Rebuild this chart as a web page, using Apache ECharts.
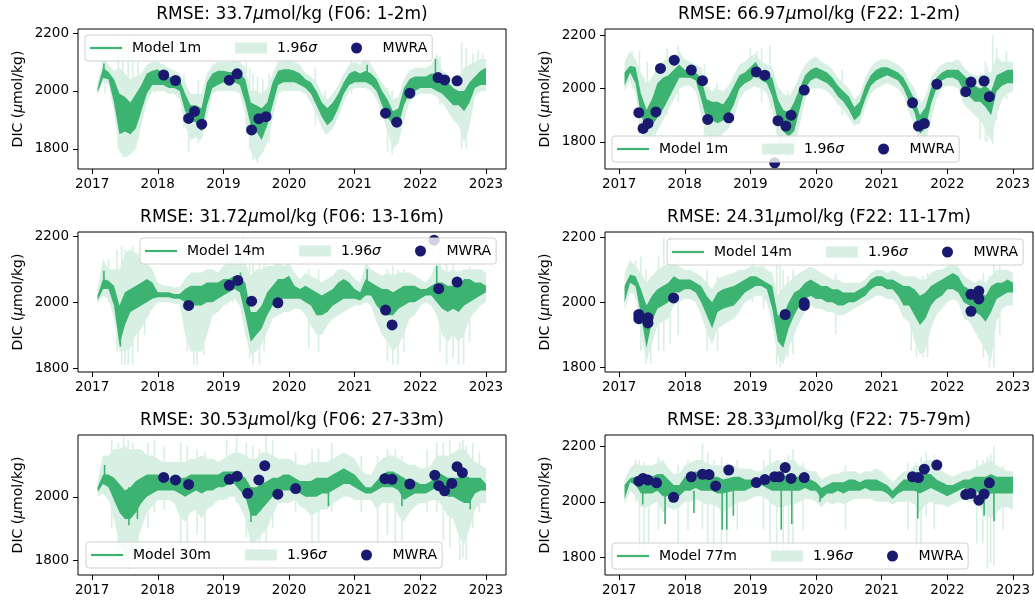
<!DOCTYPE html>
<html>
<head>
<meta charset="utf-8">
<script src="https://cdn.jsdelivr.net/npm/echarts@6/dist/echarts.min.js"></script>
<style>
  html, body { margin: 0; padding: 0; background: #fff; }
  #chart { width: 1035px; height: 604px; }
</style>
</head>
<body>
<div id="chart"></div>
<script>
// monthly sample dates (decimal year) used for the model envelopes
const months = [
  2017.083, 2017.167, 2017.25, 2017.333, 2017.417, 2017.5, 2017.583, 2017.667, 2017.75, 2017.833, 2017.917, 2018,
  2018.083, 2018.167, 2018.25, 2018.333, 2018.417, 2018.5, 2018.583, 2018.667, 2018.75, 2018.833, 2018.917, 2019,
  2019.083, 2019.167, 2019.25, 2019.333, 2019.417, 2019.5, 2019.583, 2019.667, 2019.75, 2019.833, 2019.917, 2020,
  2020.083, 2020.167, 2020.25, 2020.333, 2020.417, 2020.5, 2020.583, 2020.667, 2020.75, 2020.833, 2020.917, 2021,
  2021.083, 2021.167, 2021.25, 2021.333, 2021.417, 2021.5, 2021.583, 2021.667, 2021.75, 2021.833, 2021.917, 2022,
  2022.083, 2022.167, 2022.25, 2022.333, 2022.417, 2022.5, 2022.583, 2022.667, 2022.75, 2022.833, 2022.917, 2023
];
const xTicks = [2017, 2018, 2019, 2020, 2021, 2022, 2023];
const yTicks = [1800, 2000, 2200];

// ---- F06 1-2m ----
const p1ModelLo = [1995,2045,2040,1960,1850,1860,1850,1870,1930,1990,2020,2020, 2020,2010,2010,2000,1930,1900,1890,1860,1950,2010,2020,2030, 2020,2030,2020,1960,1880,1860,1830,1880,1950,2020,2030,2030, 2030,2020,2010,1990,1950,1910,1880,1900,1940,1990,2020,2030, 2030,2030,2020,2000,1950,1910,1880,1880,1950,1990,2000,2010, 2010,2010,2000,1990,1970,1950,1950,1930,1960,2010,2020,2020];
const p1ModelHi = [2010,2080,2065,2040,1990,1980,1960,1990,2020,2060,2070,2075, 2060,2050,2045,2040,1990,1950,1950,1940,2030,2060,2070,2070, 2065,2065,2060,2040,1960,1950,1940,1960,2030,2070,2075,2075, 2070,2060,2040,2030,2000,1960,1940,1960,1990,2030,2060,2070, 2060,2070,2060,2040,2000,1970,1930,1940,2010,2040,2050,2050, 2050,2060,2060,2040,2030,2010,2000,2000,2030,2050,2070,2080];
const p1BandLo = [1985,2030,2020,1930,1790,1770,1780,1800,1880,1960,2000,2000, 2000,1990,1990,1970,1880,1830,1840,1830,1910,1990,2000,2000, 2000,2000,1990,1920,1790,1760,1780,1820,1900,1990,2000,2000, 2000,2000,1990,1960,1920,1870,1850,1870,1910,1960,2000,2010, 2010,2010,2000,1970,1920,1860,1800,1820,1900,1960,1980,1990, 1990,1990,1980,1960,1930,1900,1880,1820,1880,1980,2000,2000];
const p1BandHi = [2030,2110,2090,2070,2080,2060,2040,2050,2060,2090,2100,2100, 2090,2080,2070,2060,2030,1990,1990,1990,2060,2090,2100,2100, 2100,2110,2100,2080,2000,2000,1990,2010,2060,2100,2110,2110, 2100,2090,2060,2050,2030,1990,1970,1990,2020,2060,2090,2100, 2090,2120,2090,2060,2030,2000,1970,1980,2040,2070,2080,2080, 2080,2090,2130,2070,2060,2040,2050,2080,2090,2100,2110,2110];
const p1BandSpikes = [[2017.20,1990,2110],[2017.40,1800,2190],[2017.47,1770,2150],[2017.55,1780,2180],[2017.62,1800,2120],[2017.70,1830,2100],[2017.95,1990,2130],[2018.40,1870,2060],[2018.47,1790,2000],[2018.62,1820,2040],[2019.15,2000,2130],[2019.35,1850,2100],[2019.40,1800,2080],[2019.45,1760,2060],[2019.52,1750,2050],[2019.60,1790,2040],[2019.70,1820,2060],[2019.95,2000,2120],[2020.40,1880,2080],[2020.55,1850,2000],[2020.95,1990,2110],[2021.50,1790,2010],[2021.57,1780,2000],[2022.30,1950,2120],[2022.63,1800,2170],[2022.70,1800,2150],[2022.80,1950,2130],[2022.88,1990,2140],[2022.95,2000,2130]];
const p1ModelSpikes = [[2017.18,2050,2095],[2021.19,2030,2090],[2022.23,2020,2110]];
const p1Mwra = [[2018.09,2055],[2018.27,2036],[2018.47,1905],[2018.56,1929],[2018.67,1885],[2019.09,2037],[2019.21,2059],[2019.43,1865],[2019.54,1904],[2019.65,1911],[2021.47,1923],[2021.64,1892],[2021.84,1992],[2022.27,2046],[2022.37,2038],[2022.56,2035]];

// ---- F22 1-2m ----
const p2ModelLo = [2010,2060,2020,1900,1850,1860,1890,1920,1960,2000,2040,2040, 2040,2030,1960,1880,1880,1870,1880,1900,1940,2000,2020,2030, 2050,2030,2020,1970,1880,1840,1820,1840,1920,2000,2030,2040, 2030,2020,2000,1970,1950,1920,1880,1900,1960,2010,2030,2040, 2050,2040,2030,2000,1950,1910,1830,1850,1940,2000,2030,2040, 2040,2030,1990,1970,1950,1950,1930,1900,1990,2010,2020,2020];
const p2ModelHi = [2060,2085,2080,1980,1920,1960,2020,2040,2050,2070,2090,2070, 2070,2060,2040,1960,1950,1950,1940,1970,2010,2050,2060,2080, 2100,2060,2050,2040,1960,1920,1910,1950,2000,2050,2070,2080, 2070,2060,2040,2010,1990,1970,1930,1950,2010,2050,2070,2080, 2080,2070,2060,2040,2000,1960,1900,1930,2000,2040,2060,2070, 2070,2070,2050,2030,2010,2000,2010,1990,2050,2060,2070,2070];
const p2BandLo = [1990,2030,1980,1850,1800,1820,1840,1880,1920,1960,2000,2010, 2010,1990,1900,1820,1820,1810,1830,1850,1890,1960,1990,2000, 2010,2000,1980,1920,1800,1760,1740,1770,1860,1960,2000,2000, 2000,1990,1970,1940,1920,1890,1860,1870,1930,1980,2000,2010, 2020,2010,2000,1970,1910,1860,1790,1800,1880,1960,2000,2010, 2010,2000,1940,1920,1900,1880,1850,1800,1900,1960,1980,1990];
const p2BandHi = [2100,2140,2110,2060,2020,2040,2080,2100,2120,2120,2140,2110, 2100,2090,2080,2010,1990,2000,1990,2010,2050,2090,2100,2120, 2130,2100,2090,2080,2010,1980,1970,2000,2050,2090,2110,2120, 2100,2090,2070,2040,2020,2000,1960,1980,2040,2080,2100,2110, 2110,2100,2090,2070,2030,2000,1940,1970,2040,2070,2090,2100, 2100,2110,2080,2060,2050,2050,2060,2060,2120,2100,2100,2100];
const p2BandSpikes = [[2017.20,2000,2140],[2017.31,1830,2140],[2017.43,1790,2100],[2017.55,1800,2060],[2017.73,1900,2150],[2017.90,1950,2160],[2018.30,1800,2090],[2018.45,1790,2000],[2018.49,1810,2020],[2019.00,2000,2150],[2019.10,2000,2140],[2019.17,1950,2150],[2019.30,1920,2160],[2019.45,1740,2000],[2019.57,1740,1990],[2020.40,1900,2070],[2021.58,1800,1960],[2021.62,1790,1950],[2022.50,1810,2060],[2022.58,1800,2100],[2022.61,1800,2080],[2022.69,1790,2200],[2022.75,1880,2150],[2022.90,1960,2140]];
const p2ModelSpikes = [];
const p2Mwra = [[2017.30,1909],[2017.365,1850],[2017.44,1869],[2017.56,1912],[2017.63,2075],[2017.84,2106],[2018.10,2069],[2018.27,2029],[2018.35,1884],[2018.67,1890],[2019.09,2062],[2019.22,2050],[2019.37,1721],[2019.42,1879],[2019.54,1859],[2019.62,1900],[2019.82,1994],[2021.47,1946],[2021.56,1859],[2021.65,1869],[2021.84,2016],[2022.28,1988],[2022.36,2024],[2022.56,2028],[2022.64,1969]];

// ---- F06 13-16m ----
const p3ModelLo = [2005,2040,2040,1990,1870,1930,1970,1980,1990,2000,2010,2015, 2015,2015,2010,2010,2000,1990,1990,1990,2000,2000,2010,2020, 2030,2040,2030,1960,1880,1900,1920,1960,1990,2000,2010,2010, 2010,2010,2000,1990,1960,1960,1970,1990,2000,2010,2010,2010, 2005,2020,2020,1990,1970,1960,1960,1980,1990,2000,2000,2010, 2020,2020,2000,1980,1970,1980,1970,1990,2000,2010,2020,2030];
const p3ModelHi = [2020,2070,2065,2050,1990,2030,2040,2050,2060,2070,2060,2030, 2030,2030,2025,2025,2040,2050,2050,2050,2060,2060,2060,2070, 2070,2080,2070,2060,1970,1970,1990,2030,2050,2070,2070,2080, 2050,2040,2050,2040,2030,2020,2030,2040,2060,2070,2060,2040, 2030,2070,2060,2050,2040,2040,2030,2040,2050,2050,2050,2040, 2040,2050,2060,2060,2050,2050,2050,2070,2070,2060,2060,2050];
const p3BandLo = [1995,2020,2010,1950,1850,1850,1860,1900,1920,1950,1980,2000, 2000,2000,1995,1995,1900,1850,1850,1850,1900,1960,1970,1990, 2000,2010,1990,1900,1840,1850,1870,1910,1950,1960,1970,1970, 1980,1980,1960,1930,1900,1900,1930,1950,1960,1970,1980,1990, 1990,2000,1990,1940,1900,1880,1850,1870,1900,1950,1960,1990, 2000,1990,1960,1900,1880,1900,1880,1900,1950,1970,1990,2000];
const p3BandHi = [2040,2130,2100,2100,2100,2150,2160,2150,2120,2120,2100,2060, 2050,2050,2045,2045,2070,2090,2090,2090,2100,2100,2090,2110, 2120,2130,2160,2120,2080,2100,2100,2110,2110,2120,2110,2120, 2090,2070,2090,2080,2070,2060,2070,2080,2100,2100,2090,2070, 2060,2120,2100,2090,2080,2090,2080,2090,2090,2090,2080,2070, 2060,2080,2130,2100,2090,2100,2090,2100,2100,2100,2100,2090];
const p3BandSpikes = [[2017.25,2000,2130],[2017.38,1850,2160],[2017.45,1810,2170],[2017.50,1810,2160],[2017.55,1810,2150],[2017.62,1810,2170],[2017.70,1850,2150],[2017.80,1900,2140],[2018.45,1850,2080],[2018.55,1810,2070],[2018.60,1810,2060],[2018.70,1840,2090],[2019.05,1990,2160],[2019.15,2000,2140],[2019.30,1950,2200],[2019.40,1830,2170],[2019.45,1810,2180],[2019.55,1810,2150],[2019.62,1850,2150],[2020.30,1860,2100],[2020.45,1850,2100],[2021.50,1820,2100],[2021.58,1810,2110],[2021.66,1810,2100],[2021.75,1850,2100],[2022.30,1850,2190],[2022.40,1810,2150],[2022.50,1830,2120],[2022.58,1810,2100],[2022.66,1810,2080],[2022.75,1880,2110]];
const p3ModelSpikes = [[2017.18,2040,2095],[2017.43,1865,1950],[2019.26,2040,2090],[2021.19,2030,2100],[2022.25,2030,2110]];
const p3Mwra = [[2018.47,1990],[2019.09,2051],[2019.22,2066],[2019.43,2003],[2019.83,1998],[2021.47,1976],[2021.57,1931],[2022.21,2188],[2022.28,2041],[2022.56,2061]];

// ---- F22 11-17m ----
const p4ModelLo = [2000,2060,2050,1960,1860,1940,1980,1990,2000,2030,2030,2040, 2040,2030,2000,1960,1920,1970,1980,1985,1990,2010,2030,2040, 2050,2050,2040,1980,1880,1860,1920,1960,1990,2010,2020,2010, 2010,2000,2000,1990,1990,2000,2000,2010,2020,2040,2050,2050, 2040,2040,2020,1990,1990,1960,1930,1950,1990,2010,2020,2040, 2040,2030,2000,1990,1970,1960,1940,1970,2010,2020,2030,2030];
const p4ModelHi = [2050,2085,2080,2040,1990,2020,2040,2050,2060,2080,2070,2070, 2070,2060,2050,2020,2000,2030,2040,2045,2050,2060,2070,2080, 2080,2070,2060,2050,1960,1960,2000,2030,2040,2060,2070,2060, 2050,2050,2040,2040,2030,2030,2030,2040,2050,2070,2080,2080, 2070,2070,2060,2050,2050,2040,2020,2030,2050,2060,2070,2080, 2090,2080,2050,2040,2030,2030,2020,2050,2060,2060,2070,2060];
const p4BandLo = [1980,2030,2020,1900,1820,1870,1930,1940,1950,1990,2000,2010, 2010,2000,1960,1910,1870,1920,1930,1940,1950,1970,2000,2010, 2020,2020,2000,1930,1830,1810,1860,1900,1940,1970,1990,1980, 1980,1970,1970,1960,1960,1970,1980,1990,2000,2010,2020,2020, 2010,2010,1990,1950,1940,1880,1840,1850,1920,1960,1980,2000, 2010,2000,1950,1940,1910,1880,1850,1820,1940,1980,1990,1990];
const p4BandHi = [2090,2130,2110,2090,2060,2080,2100,2110,2120,2120,2110,2100, 2100,2090,2080,2060,2040,2070,2080,2085,2090,2100,2100,2110, 2110,2110,2100,2090,2020,2050,2060,2080,2090,2100,2110,2100, 2090,2080,2070,2070,2060,2060,2060,2060,2070,2090,2100,2100, 2090,2100,2090,2080,2080,2080,2070,2070,2090,2100,2100,2110, 2120,2110,2080,2070,2060,2070,2060,2080,2100,2100,2100,2090];
const p4BandSpikes = [[2017.25,2010,2130],[2017.33,1850,2140],[2017.41,1810,2100],[2017.48,1810,2080],[2017.60,1850,2140],[2017.68,1850,2200],[2017.78,1870,2200],[2017.90,1900,2160],[2018.34,1850,2100],[2018.50,1850,2080],[2019.03,2000,2150],[2019.20,1980,2130],[2019.40,1810,2120],[2019.45,1800,2130],[2019.50,1810,2100],[2019.57,1830,2080],[2019.65,1840,2100],[2020.30,1900,2090],[2021.45,1850,2080],[2021.53,1830,2060],[2021.63,1830,2080],[2021.70,1830,2090],[2022.55,1830,2090],[2022.64,1800,2080],[2022.71,1800,2120],[2022.80,1900,2120]];
const p4ModelSpikes = [];
const p4Mwra = [[2017.30,1962],[2017.30,1949],[2017.44,1952],[2017.44,1936],[2017.83,2013],[2019.53,1962],[2019.82,1998],[2019.82,1990],[2022.36,2024],[2022.36,1972],[2022.48,2034],[2022.48,2010]];

// ---- F06 27-33m ----
const p5ModelLo = [2015,2040,2030,1990,1950,1930,1930,1950,1980,2000,2010,2020, 2020,2020,2020,2010,2000,2010,2020,2010,2020,2020,2030,2030, 2040,2040,2020,2000,1940,1940,1960,1980,2000,2020,2020,2020, 2020,2010,2000,2000,2000,2010,2010,2020,2030,2040,2040,2030, 2020,2010,2010,2020,2030,2030,2030,2020,1990,2000,2010,2010, 2010,2020,2030,2020,2000,2000,1990,1980,1980,2010,2020,2020];
const p5ModelHi = [2030,2070,2070,2060,2040,2020,2030,2050,2060,2070,2070,2070, 2060,2060,2060,2060,2060,2070,2070,2070,2070,2070,2070,2080, 2080,2080,2070,2060,2030,2030,2040,2050,2060,2060,2070,2070, 2060,2050,2050,2050,2060,2060,2060,2070,2080,2090,2080,2070, 2050,2030,2030,2050,2070,2080,2080,2070,2060,2050,2050,2040, 2040,2050,2080,2070,2060,2060,2060,2070,2060,2060,2060,2040];
const p5BandLo = [2000,2010,1990,1930,1850,1820,1820,1850,1900,1950,1970,1990, 1990,1990,1980,1940,1920,1950,1960,1930,1960,1970,1990,1990, 2000,2000,1970,1930,1850,1860,1880,1900,1940,1980,1980,1980, 1990,1970,1960,1940,1950,1960,1960,1980,1990,2000,2000,1990, 1990,1990,1990,1960,1980,1980,1980,1940,1920,1950,1970,1980, 1980,1990,1990,1970,1940,1930,1880,1850,1900,1960,1980,1980];
const p5BandHi = [2050,2130,2130,2150,2150,2160,2150,2150,2150,2130,2130,2120, 2110,2110,2110,2110,2110,2120,2120,2130,2120,2120,2110,2120, 2130,2140,2140,2130,2120,2120,2140,2140,2130,2120,2120,2120, 2110,2100,2100,2110,2110,2110,2110,2120,2130,2140,2130,2120, 2090,2070,2070,2100,2120,2130,2130,2120,2110,2100,2100,2090, 2090,2100,2130,2130,2130,2140,2150,2150,2130,2110,2100,2090];
const p5BandSpikes = [[2017.30,1900,2180],[2017.40,1800,2170],[2017.48,1780,2190],[2017.55,1770,2180],[2017.62,1800,2170],[2017.70,1800,2150],[2017.85,1900,2170],[2017.95,1950,2180],[2018.10,1960,2160],[2018.35,1840,2170],[2018.45,1850,2160],[2018.60,1880,2150],[2018.72,1820,2140],[2019.05,1990,2180],[2019.20,1980,2190],[2019.35,1870,2170],[2019.45,1800,2160],[2019.55,1800,2150],[2019.65,1800,2190],[2019.75,1900,2180],[2020.10,1950,2140],[2020.35,1840,2150],[2020.45,1850,2150],[2020.65,1950,2170],[2021.10,1950,2130],[2021.35,1850,2130],[2021.50,1880,2150],[2021.62,1850,2150],[2021.72,1860,2130],[2022.10,1950,2150],[2022.25,1950,2170],[2022.35,1860,2170],[2022.45,1840,2180],[2022.60,1800,2170],[2022.65,1810,2180],[2022.70,1800,2160],[2022.80,1900,2170],[2022.90,1950,2140]];
const p5ModelSpikes = [[2017.19,2040,2100],[2017.56,1910,2030],[2017.69,1930,2040],[2019.42,1920,2030],[2020.60,1970,2040],[2021.72,1970,2040],[2022.76,1960,2040]];
const p5Mwra = [[2018.09,2061],[2018.27,2053],[2018.47,2039],[2019.09,2055],[2019.21,2065],[2019.37,2011],[2019.54,2053],[2019.63,2098],[2019.83,2008],[2020.10,2026],[2021.46,2057],[2021.57,2055],[2021.84,2040],[2022.22,2068],[2022.28,2035],[2022.37,2019],[2022.48,2042],[2022.56,2095],[2022.64,2076]];

// ---- F22 75-79m ----
const p6ModelLo = [2010,2070,2060,2030,2030,2030,2040,2020,2020,2010,2020,2040, 2040,2050,2040,2040,2040,2030,2030,2035,2040,2040,2040,2050, 2060,2060,2050,2040,2040,2040,2040,2040,2040,2050,2040,2040, 2010,2030,2030,2040,2030,2040,2040,2040,2050,2040,2040,2040, 2030,2010,2030,2040,2040,2040,2030,2040,2050,2040,2030,2020, 2030,2040,2050,2040,2040,2030,2020,2030,2030,2030,2030,2030];
const p6ModelHi = [2060,2085,2090,2090,2090,2090,2100,2100,2080,2060,2060,2090, 2100,2110,2100,2100,2090,2090,2080,2085,2090,2090,2080,2080, 2080,2080,2090,2090,2090,2090,2100,2090,2090,2080,2080,2070, 2050,2060,2070,2070,2070,2080,2080,2070,2080,2080,2080,2070, 2060,2040,2060,2080,2080,2090,2090,2100,2100,2080,2070,2060, 2060,2070,2080,2080,2090,2090,2090,2100,2090,2090,2090,2090];
const p6BandLo = [1990,2040,2020,1980,1980,1990,2000,1960,1980,1970,1980,2000, 2000,2010,2000,1990,1990,1980,1960,1975,1990,2000,2000,2010, 2020,2020,2010,1990,1980,1980,1990,1990,2000,2010,2010,2000, 1980,2000,1990,2000,1990,2000,2010,2010,2010,2010,2000,2000, 2000,1990,2000,2000,2000,1990,1960,1990,2000,1990,1990,1980, 1990,2000,2010,2000,2000,1980,1950,1940,1960,1980,1980,1970];
const p6BandHi = [2080,2120,2140,2130,2130,2130,2140,2150,2120,2100,2100,2130, 2140,2150,2150,2140,2130,2130,2130,2130,2130,2120,2120,2120, 2110,2110,2130,2140,2150,2140,2150,2150,2130,2120,2110,2110, 2080,2090,2100,2100,2110,2110,2110,2100,2110,2110,2120,2110, 2090,2070,2090,2110,2110,2130,2130,2150,2150,2130,2110,2100, 2090,2100,2110,2110,2120,2130,2140,2150,2130,2120,2110,2110];
const p6BandSpikes = [[2017.25,2000,2150],[2017.31,1800,2150],[2017.38,1820,2140],[2017.45,1850,2130],[2017.60,1900,2160],[2017.90,1850,2130],[2018.05,1900,2150],[2018.27,1900,2210],[2018.35,1850,2180],[2018.44,1800,2150],[2018.56,1820,2160],[2018.64,1850,2140],[2018.80,1900,2150],[2019.20,1900,2150],[2019.30,1850,2190],[2019.40,1800,2150],[2019.50,1810,2120],[2019.58,1820,2170],[2019.65,1850,2190],[2019.80,1900,2140],[2020.45,1900,2130],[2021.40,1900,2140],[2021.53,1830,2140],[2021.60,1850,2160],[2021.68,1950,2180],[2021.80,1900,2170],[2022.45,1850,2150],[2022.54,1850,2150],[2022.61,1760,2160],[2022.66,1780,2170],[2022.71,1770,2200],[2022.85,1900,2130]];
const p6ModelSpikes = [[2017.36,1990,2040],[2017.70,1920,2040],[2018.14,1960,2040],[2018.57,1900,2040],[2018.64,1900,2040],[2018.74,1950,2040],[2019.47,1900,2040],[2019.63,1920,2040],[2020.06,2000,2040],[2021.55,1940,2040],[2022.56,1950,2040],[2022.71,1930,2040]];
const p6Mwra = [[2017.30,2074],[2017.365,2084],[2017.44,2078],[2017.57,2068],[2017.83,2016],[2018.10,2090],[2018.27,2099],[2018.37,2098],[2018.47,2057],[2018.67,2114],[2019.09,2069],[2019.22,2080],[2019.37,2090],[2019.44,2090],[2019.53,2123],[2019.62,2084],[2019.82,2087],[2021.47,2090],[2021.56,2087],[2021.65,2117],[2021.84,2132],[2022.28,2026],[2022.36,2030],[2022.48,2006],[2022.56,2028],[2022.64,2068]];

const panels = [
  { rmse: '33.7',  site: 'F06: 1-2m',   model: 'Model 1m',  yMin: 1730, yMax: 2214, mLo: p1ModelLo, mHi: p1ModelHi, bLo: p1BandLo, bHi: p1BandHi, bSp: p1BandSpikes, mSp: p1ModelSpikes, obs: p1Mwra },
  { rmse: '66.97', site: 'F22: 1-2m',   model: 'Model 1m',  yMin: 1698, yMax: 2223, mLo: p2ModelLo, mHi: p2ModelHi, bLo: p2BandLo, bHi: p2BandHi, bSp: p2BandSpikes, mSp: p2ModelSpikes, obs: p2Mwra },
  { rmse: '31.72', site: 'F06: 13-16m', model: 'Model 14m', yMin: 1788, yMax: 2213, mLo: p3ModelLo, mHi: p3ModelHi, bLo: p3BandLo, bHi: p3BandHi, bSp: p3BandSpikes, mSp: p3ModelSpikes, obs: p3Mwra },
  { rmse: '24.31', site: 'F22: 11-17m', model: 'Model 14m', yMin: 1785, yMax: 2216, mLo: p4ModelLo, mHi: p4ModelHi, bLo: p4BandLo, bHi: p4BandHi, bSp: p4BandSpikes, mSp: p4ModelSpikes, obs: p4Mwra },
  { rmse: '30.53', site: 'F06: 27-33m', model: 'Model 30m', yMin: 1753, yMax: 2195, mLo: p5ModelLo, mHi: p5ModelHi, bLo: p5BandLo, bHi: p5BandHi, bSp: p5BandSpikes, mSp: p5ModelSpikes, obs: p5Mwra },
  { rmse: '28.33', site: 'F22: 75-79m', model: 'Model 77m', yMin: 1737, yMax: 2240, mLo: p6ModelLo, mHi: p6ModelHi, bLo: p6BandLo, bHi: p6BandHi, bSp: p6BandSpikes, mSp: p6ModelSpikes, obs: p6Mwra }
];

// layout (pixels)
const cells = [
  { left: 78, top: 29 }, { left: 605, top: 29 },
  { left: 78, top: 232 }, { left: 605, top: 232 },
  { left: 78, top: 435 }, { left: 605, top: 435 }
];
const legendPos = [
  { left: 85, top: 35 }, { left: 612, top: 136 },
  { left: 140, top: 238 }, { left: 667, top: 239 },
  { left: 86, top: 542 }, { left: 612, top: 543 }
];
const CELL_W = 428, CELL_H = 140;
const FONT = 'DejaVu Sans';
const GREEN = '#3cb371', BAND = '#d8f0e3', NAVY = '#191970';
const BAND_NAME = '1.96σ';

function envelope(i, name, lo, hi, color, z) {
  return {
    type: 'custom', name: name, xAxisIndex: i, yAxisIndex: i, z: z, silent: true,
    itemStyle: { color: color },
    data: [[2020, 2000]],
    renderItem: function (params, api) {
      const pts = [];
      for (let k = 0; k < months.length; k++) pts.push(api.coord([months[k], hi[k]]));
      for (let k = months.length - 1; k >= 0; k--) pts.push(api.coord([months[k], lo[k]]));
      return { type: 'polygon', shape: { points: pts }, style: { fill: color } };
    }
  };
}

function spikes(i, name, list, color, z) {
  return {
    type: 'custom', name: name, xAxisIndex: i, yAxisIndex: i, z: z, silent: true,
    itemStyle: { color: color },
    encode: { x: 0, y: [1, 2] },
    data: list,
    renderItem: function (params, api) {
      const top = api.coord([api.value(0), api.value(2)]);
      const bot = api.coord([api.value(0), api.value(1)]);
      return { type: 'rect', shape: { x: top[0] - 0.8, y: top[1], width: 1.6, height: bot[1] - top[1] }, style: { fill: color } };
    }
  };
}

const italic = (size) => ({ i: { fontStyle: 'italic', fontFamily: FONT, fontSize: size, color: '#000' } });

const option = {
  animation: false,
  backgroundColor: '#fff',
  title: [], grid: [], xAxis: [], yAxis: [], legend: [], series: []
};

panels.forEach(function (p, i) {
  const c = cells[i];
  option.grid.push({
    left: c.left, top: c.top, width: CELL_W, height: CELL_H,
    show: true, borderColor: '#000', borderWidth: 1, backgroundColor: 'transparent',
    containLabel: false, outerBoundsMode: 'none'
  });
  option.title.push({
    text: 'RMSE: ' + p.rmse + '{i|μ}mol/kg (' + p.site + ')',
    left: c.left + CELL_W / 2, top: c.top - 14.5,
    textAlign: 'center', textVerticalAlign: 'middle', padding: 0,
    textStyle: { fontFamily: FONT, fontSize: 17, fontWeight: 'normal', color: '#000', rich: italic(17) }
  });
  option.xAxis.push({
    type: 'value', gridIndex: i, min: 2016.785, max: 2023.305,
    splitLine: { show: false }, axisLine: { show: false },
    axisTick: { show: true, customValues: xTicks, length: 5, lineStyle: { color: '#000', width: 1 } },
    axisLabel: { customValues: xTicks, formatter: (v) => String(v), fontFamily: FONT, fontSize: 13.5, color: '#000', margin: 8 }
  });
  const yt = yTicks.filter((v) => v >= p.yMin && v <= p.yMax);
  option.yAxis.push({
    type: 'value', gridIndex: i, min: p.yMin, max: p.yMax,
    splitLine: { show: false }, axisLine: { show: false },
    axisTick: { show: true, customValues: yt, length: 5, lineStyle: { color: '#000', width: 1 } },
    axisLabel: { customValues: yt, formatter: (v) => String(v), fontFamily: FONT, fontSize: 13.5, color: '#000', margin: 9 },
    name: 'DIC ({i|μ}mol/kg)', nameLocation: 'middle', nameGap: 53,
    nameTextStyle: { fontFamily: FONT, fontSize: 14, color: '#000', rich: italic(14) }
  });
  option.legend.push({
    left: legendPos[i].left, top: legendPos[i].top, orient: 'horizontal',
    padding: [6, 5, 6, 5], itemGap: 34, itemWidth: 32, itemHeight: 11,
    backgroundColor: 'rgba(255,255,255,0.8)', borderColor: '#d0d0d0', borderWidth: 1, borderRadius: 3,
    selectedMode: false, z: 10,
    formatter: (name) => name.replace('σ', '{i|σ}'),
    textStyle: { fontFamily: FONT, fontSize: 14, color: '#000', lineHeight: 14, padding: [0, 0, 0, 5], rich: italic(14) },
    data: [
      { name: p.model, icon: 'path://M0,0H32V2.2H0Z', itemStyle: { color: GREEN } },
      { name: BAND_NAME, icon: 'rect', itemStyle: { color: BAND } },
      { name: 'MWRA', icon: 'circle', itemStyle: { color: NAVY } }
    ]
  });
  option.series.push(envelope(i, BAND_NAME, p.bLo, p.bHi, BAND, 1));
  option.series.push(spikes(i, BAND_NAME, p.bSp, BAND, 1));
  option.series.push(envelope(i, p.model, p.mLo, p.mHi, GREEN, 2));
  option.series.push(spikes(i, p.model, p.mSp, GREEN, 2));
  option.series.push({
    type: 'scatter', name: 'MWRA', xAxisIndex: i, yAxisIndex: i, z: 3, silent: true,
    symbol: 'circle', symbolSize: 11, itemStyle: { color: NAVY, opacity: 1 },
    data: p.obs
  });
});

const chart = echarts.init(document.getElementById('chart'), null, { renderer: 'canvas' });
chart.setOption(option);
</script>
</body>
</html>
